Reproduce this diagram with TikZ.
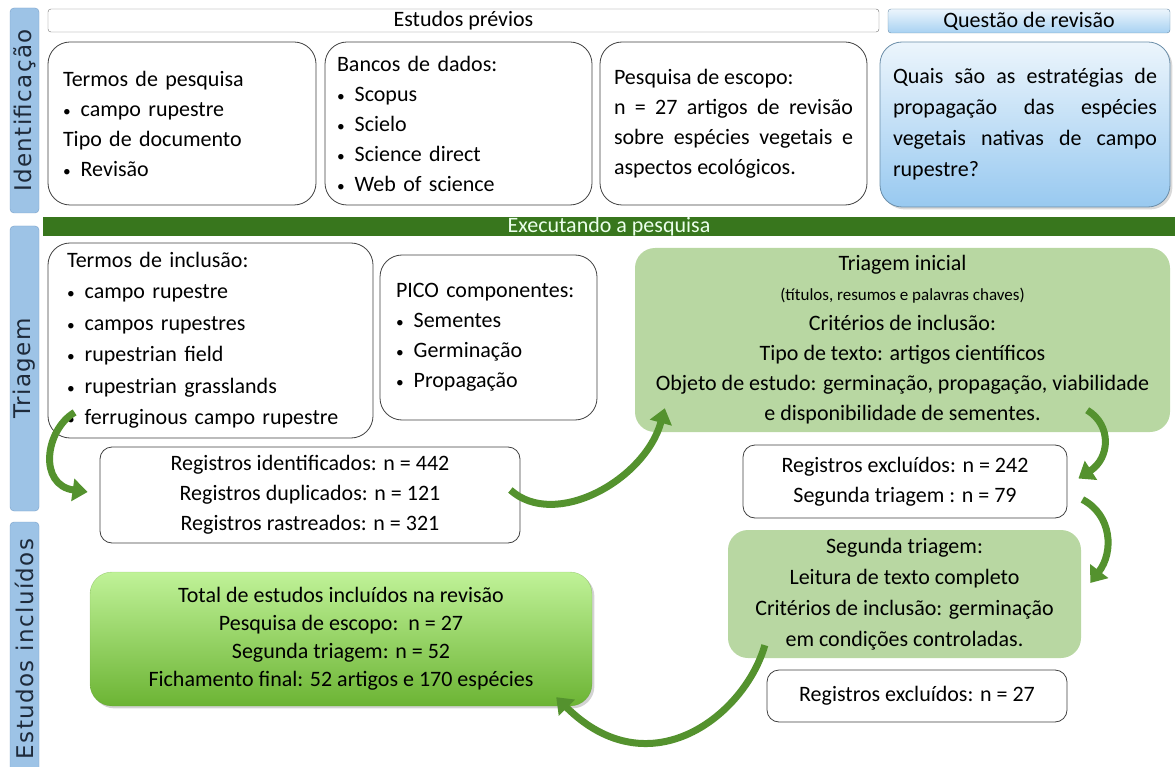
\documentclass[tikz,border=0pt]{standalone}
\usepackage{fontspec}
\setmainfont{Carlito}
\newfontfamily\tabfont[LetterSpace=6]{DejaVu Sans}
\usetikzlibrary{arrows.meta,shadows,calc}

\definecolor{tabblue}{RGB}{157,195,230}
\definecolor{tabedge}{RGB}{120,160,200}
\definecolor{tabtext}{RGB}{30,42,58}
\definecolor{barGreen}{RGB}{56,118,29}
\definecolor{sage}{RGB}{184,215,162}
\definecolor{totTop}{RGB}{192,242,152}
\definecolor{totBot}{RGB}{108,180,52}
\definecolor{qTop}{RGB}{236,245,252}
\definecolor{qBot}{RGB}{152,201,240}
\definecolor{arrGreen}{RGB}{84,146,46}

\tikzset{
  tab/.style={draw=tabedge, fill=tabblue, rounded corners=4pt, rotate=90,
    text=tabtext, font=\tabfont\fontsize{23}{23}\selectfont, inner sep=0pt,
    minimum height=29pt},
  headbar/.style={draw=black!55, fill=white, rounded corners=3pt, inner sep=0pt,
    font=\fontsize{22}{22}\selectfont},
  wbox/.style={draw=black!75, fill=white, line width=0.8pt, rounded corners=22pt},
  gbox/.style={fill=sage, rounded corners=20pt, align=center},
  flow/.style={line width=7pt, arrGreen, -{Triangle[width=22pt,length=15pt]}}
}
\newcommand{\itm}{\scalebox{0.7}{\textbullet}\hspace{10pt}}

\begin{document}
\begin{tikzpicture}[x=1pt,y=-1pt, font=\fontsize{22}{30}\selectfont]
  \useasboundingbox (0,0) rectangle (1175,767);

  % sidebar
  \node[tab, minimum width=205pt] (tabId) at (24.5,110.5) {Identificação};
  \node[tab, minimum width=285pt] (tabTri) at (24.5,368.5) {Triagem};
  \node[tab, minimum width=254pt] (tabEst) at (24.5,649) {Estudos incluídos};

  % identificacao
  \node[headbar, minimum width=831pt, minimum height=23pt] (prev) at (463.5,20.5) {Estudos prévios};
  \node[headbar, draw=qBot!70!black, top color=qTop, bottom color=qBot!85,
    minimum width=282pt, minimum height=24pt] (qhead) at (1029,21) {Questão de revisão};

  \node[wbox, minimum height=163pt, text width=238pt, inner xsep=15pt, align=left] (termos) at (182,123.5)
    {Termos de pesquisa\\ \itm campo rupestre\\ Tipo de documento\\ \itm Revisão};
  \node[wbox, minimum height=163pt, text width=243pt, inner xsep=12pt, align=left] (bancos) at (458.5,123.5)
    {Bancos de dados:\\ \itm Scopus\\ \itm Scielo\\ \itm Science direct\\ \itm Web of science};
  \node[wbox, minimum height=163pt, text width=239pt, inner xsep=14pt, align=justify] (escopo) at (733.5,123.5)
    {Pesquisa de escopo:\\ n = 27 artigos de revisão\linebreak
     sobre espécies vegetais e\linebreak aspectos ecológicos.};
  \node[wbox, draw=qBot!70!black, top color=qTop, bottom color=qBot, drop shadow={opacity=0.3},
    minimum height=165pt, text width=264pt, inner xsep=13pt, align=justify,
    font=\fontsize{22}{31}\selectfont] (questao) at (1025,124.5)
    {Quais são as estratégias de\linebreak propagação das espécies\linebreak
     vegetais nativas de campo\linebreak rupestre?};

  % triagem
  \node[fill=barGreen, minimum width=1132pt, minimum height=19pt, inner sep=0pt,
    text=green!8!white, font=\fontsize{22}{22}\selectfont] (exec) at (609,226.5) {Executando a pesquisa};

  \node[wbox, minimum height=195pt, text width=287pt, inner xsep=19pt, align=left, font=\fontsize{22}{31.5}\selectfont] (inclusao) at (210.5,340.5)
    {Termos de inclusão:\\ \itm campo rupestre\\ \itm campos rupestres\\ \itm rupestrian field\\
     \itm rupestrian grasslands\\ \itm ferruginous campo rupestre};
  \node[wbox, minimum height=165pt, text width=185pt, inner xsep=16pt, align=left] (pico) at (488.5,337.5)
    {PICO componentes:\\ \itm Sementes\\ \itm Germinação\\ \itm Propagação};
  \node[gbox, minimum width=535pt, minimum height=184pt] (inicial) at (902.5,340)
    {Triagem inicial\\ {\fontsize{17}{17}\selectfont (títulos, resumos e palavras chaves)}\\
     Critérios de inclusão:\\ Tipo de texto: artigos científicos\\
     Objeto de estudo: germinação, propagação, viabilidade\\ e disponibilidade de sementes.};

  \node[wbox, rounded corners=12pt, minimum width=420pt, minimum height=96pt, align=center] (ident) at (310,495)
    {Registros identificados: n = 442\\ Registros duplicados: n = 121\\ Registros rastreados: n = 321};
  \node[wbox, rounded corners=12pt, minimum width=324pt, minimum height=73pt, align=center] (excl) at (905,481.5)
    {Registros excluídos: n = 242\\ Segunda triagem : n = 79};

  % estudos incluidos
  \node[gbox, minimum width=353pt, minimum height=128pt, font=\fontsize{22}{31}\selectfont] (segunda) at (904.5,594)
    {Segunda triagem:\\ Leitura de texto completo\\ Critérios de inclusão: germinação\\ em condições controladas.};
  \node[wbox, rounded corners=12pt, minimum width=300pt, minimum height=52pt] (exclB) at (917,696)
    {Registros excluídos: n = 27};
  \node[rounded corners=22pt, top color=totTop, bottom color=totBot, draw=totBot!80!black, draw opacity=0.4,
    drop shadow={opacity=0.35}, minimum width=502pt, minimum height=134pt, align=center,
    font=\fontsize{22}{28}\selectfont] (total) at (341,639)
    {Total de estudos incluídos na revisão\\ Pesquisa de escopo:\ \ n = 27\\ Segunda triagem: n = 52\\
     Fichamento final: 52 artigos e 170 espécies};

  % setas
  \draw[flow] ([xshift=27pt,yshift=26pt]inclusao.south west) .. controls (45,430) and (38,485) .. ([xshift=-12pt,yshift=3pt]ident.west);
  \draw[flow] ([xshift=-10pt,yshift=5pt]ident.east) .. controls (555,530) and (645,480) .. ([xshift=30pt,yshift=24pt]inicial.south west);
  \draw[flow] ([xshift=-83pt,yshift=22pt]inicial.south east) .. controls (1112,425) and (1110,458) .. ([xshift=11pt,yshift=3pt]excl.east);
  \draw[flow] ([xshift=15pt,yshift=-18pt]excl.east) .. controls (1112,515) and (1114,552) .. ([xshift=9pt,yshift=11pt]segunda.east);
  \draw[flow] ([xshift=37pt,yshift=13pt]segunda.south west) .. controls (745,715) and (650,790) .. ([xshift=-36pt,yshift=9pt]total.south east);
\end{tikzpicture}
\end{document}
